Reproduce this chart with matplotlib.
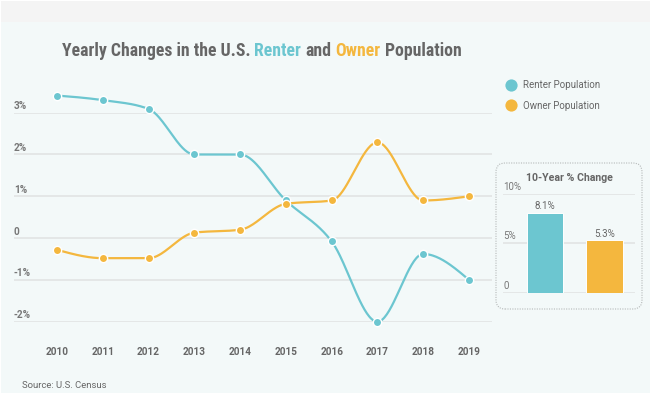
import numpy as np
import matplotlib
matplotlib.use("Agg")
import matplotlib.pyplot as plt
from matplotlib import font_manager as fm
from matplotlib.patches import Rectangle, FancyBboxPatch
from matplotlib.lines import Line2D
import matplotlib.transforms as mtrans

# ---------------- data ----------------
years = [2010, 2011, 2012, 2013, 2014, 2015, 2016, 2017, 2018, 2019]
renter = [3.41, 3.30, 3.09, 2.00, 2.00, 0.90, -0.08, -2.00, -0.38, -1.00]
owner = [-0.28, -0.48, -0.48, 0.13, 0.20, 0.82, 0.90, 2.29, 0.90, 1.00]
y_ticks = [-2, -1, 0, 1, 2, 3]
y_tick_labels = ["-2%", "-1%", "0", "1%", "2%", "3%"]
series_names = ["Renter Population", "Owner Population"]
change_values = [8.1, 5.3]
change_labels = ["8.1%", "5.3%"]
inset_ticks = [0, 5, 10]
inset_tick_labels = ["0", "5%", "10%"]
title_parts = ["Yearly Changes in the U.S.", "Renter", "and", "Owner", "Population"]
inset_title = "10-Year % Change"
source_text = "Source: U.S. Census"

TEAL = "#6cc6d0"
ORANGE = "#f4b73e"
GRAY = "#666666"
LGRAY = "#777777"
BG = "#f3f9f9"
GRID = "#e2e4e4"

W, H = 650, 393
DPI = 100

# fonts
names = {f.name for f in fm.fontManager.ttflist}
FONT = "Roboto" if "Roboto" in names else "DejaVu Sans"
TFONT = FONT
for cand in ["Roboto Condensed", "Roboto Cn"]:
    if cand in names:
        TFONT = cand
        break
plt.rcParams["font.family"] = [FONT, "DejaVu Sans"]


def monotone_curve(x, y, n=40):
    x = np.asarray(x, float)
    y = np.asarray(y, float)
    h = np.diff(x)
    s = np.diff(y) / h
    t = np.zeros_like(y)
    for i in range(1, len(x) - 1):
        p = (s[i - 1] * h[i] + s[i] * h[i - 1]) / (h[i - 1] + h[i])
        t[i] = (np.sign(s[i - 1]) + np.sign(s[i])) * min(abs(s[i - 1]), abs(s[i]), 0.5 * abs(p))
    t[0] = (3 * s[0] - t[1]) / 2
    t[-1] = (3 * s[-1] - t[-2]) / 2
    xs, ys = [], []
    for i in range(len(x) - 1):
        u = np.linspace(0, 1, n)
        h00 = 2 * u**3 - 3 * u**2 + 1
        h10 = u**3 - 2 * u**2 + u
        h01 = -2 * u**3 + 3 * u**2
        h11 = u**3 - u**2
        xs.append(x[i] + u * h[i])
        ys.append(h00 * y[i] + h10 * h[i] * t[i] + h01 * y[i + 1] + h11 * h[i] * t[i + 1])
    return np.concatenate(xs), np.concatenate(ys)


fig = plt.figure(figsize=(W / DPI, H / DPI), dpi=DPI)
fig.patch.set_facecolor(BG)

# top gray strip and white edges
fig.add_artist(Rectangle((0, 0), W, H, transform=mtrans.IdentityTransform(),
                         facecolor="white", edgecolor="none", zorder=-10))
fig.add_artist(Rectangle((1, 0), W - 1, H - 1, transform=mtrans.IdentityTransform(),
                         facecolor=BG, edgecolor="none", zorder=-9))
fig.add_artist(Rectangle((1, H - 22), W - 1, 21, transform=mtrans.IdentityTransform(),
                         facecolor="#f4f4f4", edgecolor="none", zorder=-8))


def px(x, y):
    return x / W, 1 - y / H


# ---------------- main axes ----------------
top_px, bot_px = 112.7, 321.7
left_px, right_px = 14, 492
ax = fig.add_axes([left_px / W, 1 - bot_px / H, (right_px - left_px) / W, (bot_px - top_px) / H])
ax.set_facecolor("none")
for sp in ax.spines.values():
    sp.set_visible(False)
step = (469 - 57) / 9.0
ax.set_xlim(2010 - (57 - left_px) / step, 2019 + (right_px - 469) / step)
ax.set_ylim(-2, 3)
ax.set_yticks(y_ticks)
ax.grid(axis="y", color=GRID, lw=1.2)
ax.set_axisbelow(True)
ax.tick_params(axis="y", length=0, labelleft=False)
ax.set_xticks(years, [str(y) for y in years])
ax.tick_params(axis="x", length=0, pad=18, labelsize=7.2, labelcolor=GRAY)
for lbl in ax.get_xticklabels():
    lbl.set_fontweight("bold")

ytrans = mtrans.blended_transform_factory(ax.transAxes, ax.transData)
ytrans = ytrans + mtrans.ScaledTranslation(0, 2.5 / 72, fig.dpi_scale_trans)
for v, lab in zip(y_ticks, y_tick_labels):
    ax.text(0, v, lab, transform=ytrans, ha="left", va="baseline",
            fontsize=7.2, color=LGRAY, fontweight="bold")

for vals, col in [(renter, TEAL), (owner, ORANGE)]:
    cx, cy = monotone_curve(years, vals)
    ax.plot(cx, cy, color=col, lw=1.6, clip_on=False, zorder=3, solid_capstyle="round")
    ax.plot(years, vals, "o", ms=6, mfc=col, mec="white", mew=1.0, clip_on=False, zorder=4)

# legend
handles = [Line2D([], [], marker="o", ls="", ms=8.8, mfc=c, mec="none") for c in (TEAL, ORANGE)]
leg = fig.legend(handles, series_names, loc="upper left", bbox_to_anchor=px(506, 80.5),
                 frameon=False, fontsize=7.0, labelcolor=GRAY, handlelength=1.0,
                 handletextpad=0.75, labelspacing=1.05, borderpad=0, borderaxespad=0)

# ---------------- inset ----------------
box = FancyBboxPatch((496, H - 309), 146, 146, boxstyle="round,pad=0,rounding_size=9",
                     transform=mtrans.IdentityTransform(), facecolor=BG,
                     edgecolor="#b5b9b9", lw=0.8, linestyle=(0, (1, 1.2)), zorder=0)
fig.add_artist(box)
fig.text(*px(569, 180.5), inset_title, ha="center", va="baseline", fontsize=7.6,
         fontweight="bold", color=GRAY)

i0, i10 = 292.7, 194.0
ax2 = fig.add_axes([503 / W, 1 - i0 / H, 132 / W, (i0 - i10) / H])
ax2.set_facecolor("none")
for sp in ax2.spines.values():
    sp.set_visible(False)
ax2.set_ylim(0, 10)
ustep = 604.5 - 545.0
ax2.set_xlim(-(545 - 503) / ustep, 1 + (635 - 604.5) / ustep)
ax2.set_yticks(inset_ticks)
ax2.grid(axis="y", color=GRID, lw=1.2)
ax2.set_axisbelow(True)
ax2.tick_params(axis="both", length=0, labelleft=False, labelbottom=False)
bars = ax2.bar([0, 1], change_values, width=36.5 / ustep, color=[TEAL, ORANGE],
               edgecolor="white", lw=0.7, zorder=3)
ax2.bar_label(bars, labels=change_labels, padding=1, fontsize=7, color=GRAY)
ytrans2 = mtrans.blended_transform_factory(ax2.transAxes, ax2.transData)
ytrans2 = ytrans2 + mtrans.ScaledTranslation(0, 3 / 72, fig.dpi_scale_trans)
for v, lab in zip(inset_ticks, inset_tick_labels):
    ax2.text(0, v, lab, transform=ytrans2, ha="left", va="baseline",
             fontsize=7, color=LGRAY)

# source
fig.text(*px(22, 387.5), source_text, ha="left", va="baseline", fontsize=6.8, color=GRAY)

# ---------------- title (multi-coloured) ----------------
renderer = fig.canvas.get_renderer()
colors = [GRAY, TEAL, GRAY, ORANGE, GRAY]
target_w = 401.0


def measure(size):
    ws = []
    for part in title_parts:
        t = fig.text(0, 0, part, fontsize=size, fontweight="bold", family=[TFONT, "DejaVu Sans"])
        ws.append(t.get_window_extent(renderer).width)
        t.remove()
    t1 = fig.text(0, 0, "aa", fontsize=size, fontweight="bold", family=[TFONT, "DejaVu Sans"])
    t2 = fig.text(0, 0, "a a", fontsize=size, fontweight="bold", family=[TFONT, "DejaVu Sans"])
    sp = t2.get_window_extent(renderer).width - t1.get_window_extent(renderer).width
    t1.remove(); t2.remove()
    return ws, sp


size = 12.0
ws, sp = measure(size)
total = sum(ws) + sp * (len(ws) - 1)
size = size * target_w / total
ws, sp = measure(size)
total = sum(ws) + sp * (len(ws) - 1)
x = 261.5 - total / 2
for part, col, w in zip(title_parts, colors, ws):
    fig.text(*px(x, 55.5), part, ha="left", va="baseline", fontsize=size,
             fontweight="bold", color=col, family=[TFONT, "DejaVu Sans"])
    x += w + sp

fig.savefig("out.png", dpi=DPI, facecolor=fig.get_facecolor())
